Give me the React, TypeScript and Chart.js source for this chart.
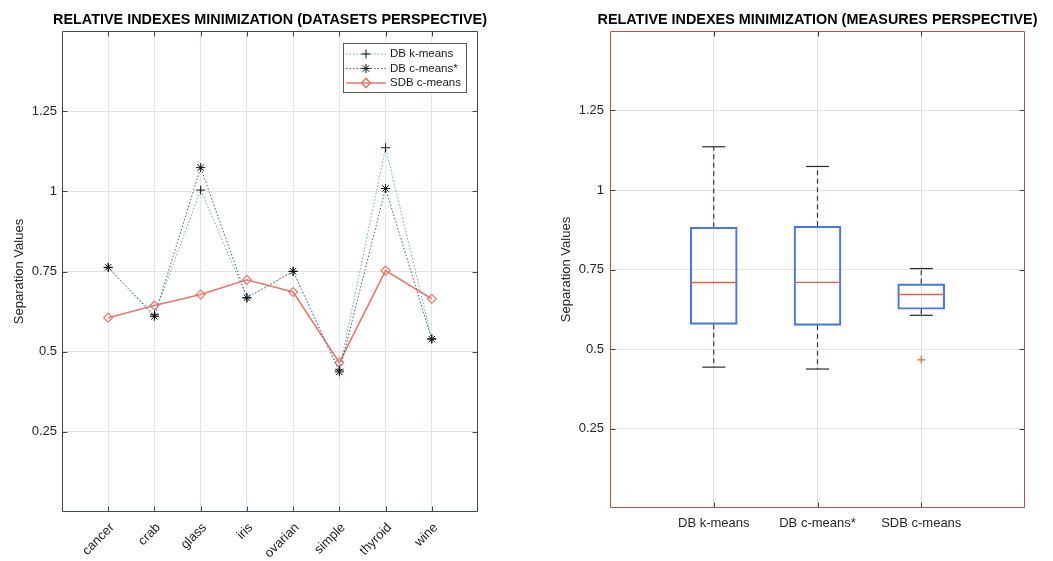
import React, { useEffect, useRef } from 'react';
import { Chart, registerables } from 'chart.js';
import { drawPoint } from 'chart.js/helpers';

Chart.register(...registerables);

// ---------- data ----------
const datasetNames = ['cancer', 'crab', 'glass', 'iris', 'ovarian', 'simple', 'thyroid', 'wine'];
const dbKMeans = [0.762, 0.615, 1.004, 0.668, 0.75, 0.443, 1.136, 0.54];
const dbCMeans = [0.763, 0.61, 1.074, 0.668, 0.751, 0.437, 1.009, 0.539];
const sdbCMeans = [0.606, 0.644, 0.678, 0.724, 0.686, 0.466, 0.753, 0.665];
const measureNames = ['DB k-means', 'DB c-means*', 'SDB c-means'];
const yTickValues = [0.25, 0.5, 0.75, 1, 1.25];

const FONT = '"Liberation Sans", Arial, Helvetica, sans-serif';

// MATLAB-style boxplot statistics derived from the series
function quantile(sorted: number[], p: number) {
  const n = sorted.length;
  const pos = p * n + 0.5;
  if (pos <= 1) return sorted[0];
  if (pos >= n) return sorted[n - 1];
  const lo = Math.floor(pos);
  const f = pos - lo;
  return sorted[lo - 1] + f * (sorted[lo] - sorted[lo - 1]);
}
function boxStats(values: number[]) {
  const s = [...values].sort((a, b) => a - b);
  const q1 = quantile(s, 0.25);
  const med = quantile(s, 0.5);
  const q3 = quantile(s, 0.75);
  const iqr = q3 - q1;
  const lf = q1 - 1.5 * iqr;
  const uf = q3 + 1.5 * iqr;
  const inside = s.filter((v) => v >= lf && v <= uf);
  return {
    q1, med, q3,
    min: inside[0],
    max: inside[inside.length - 1],
    outliers: s.filter((v) => v < lf || v > uf),
  };
}

// ---------- plugins ----------
const frameTicks = {
  id: 'frameTicks',
  afterDatasetsDraw(chart: any, _a: any, opts: any) {
    const { ctx, chartArea, scales } = chart;
    const left = Math.round(chartArea.left) + 0.5;
    const right = Math.round(chartArea.right) - 0.5;
    const top = Math.round(chartArea.top) + 0.5;
    const bottom = Math.round(chartArea.bottom) - 0.5;
    const len = 5;
    ctx.save();
    ctx.lineWidth = 1;
    ctx.setLineDash([]);
    ctx.strokeStyle = opts.tickColor || opts.color || '#333';
    ctx.beginPath();
    scales.x.ticks.forEach((t: any) => {
      const px = Math.round(scales.x.getPixelForValue(t.value)) + 0.5;
      ctx.moveTo(px, bottom); ctx.lineTo(px, bottom - len);
      ctx.moveTo(px, top); ctx.lineTo(px, top + len);
    });
    scales.y.ticks.forEach((t: any) => {
      const py = Math.round(scales.y.getPixelForValue(t.value)) + 0.5;
      ctx.moveTo(left, py); ctx.lineTo(left + len, py);
      ctx.moveTo(right, py); ctx.lineTo(right - len, py);
    });
    ctx.stroke();
    ctx.strokeStyle = opts.color || '#333';
    ctx.beginPath();
    ctx.rect(left, top, right - left, bottom - top);
    ctx.stroke();
    ctx.restore();
  },
};

const legendBox = {
  id: 'legendBox',
  afterDraw(chart: any) {
    const { ctx, chartArea } = chart;
    const w = 123, h = 49;
    const x0 = Math.round(chartArea.right) - 12 - w;
    const y0 = Math.round(chartArea.top) + 12;
    ctx.save();
    ctx.fillStyle = '#ffffff';
    ctx.fillRect(x0, y0, w, h);
    ctx.strokeStyle = '#5a5a5a';
    ctx.lineWidth = 1;
    ctx.strokeRect(x0 + 0.5, y0 + 0.5, w, h);
    chart.data.datasets.forEach((ds: any, i: number) => {
      const y = y0 + 11 + i * 14.5;
      ctx.strokeStyle = ds.borderColor;
      ctx.lineWidth = ds.borderWidth;
      ctx.setLineDash(ds.borderDash || []);
      ctx.beginPath();
      ctx.moveTo(x0 + 3, y);
      ctx.lineTo(x0 + 43, y);
      ctx.stroke();
      ctx.setLineDash([]);
      ctx.strokeStyle = ds.pointBorderColor;
      ctx.fillStyle = ds.pointBackgroundColor;
      drawPoint(ctx, { pointStyle: ds.pointStyle, radius: ds.pointRadius, rotation: 0, borderWidth: ds.pointBorderWidth }, x0 + 23, y);
      ctx.fillStyle = '#1a1a1a';
      ctx.font = '11.5px ' + FONT;
      ctx.textBaseline = 'middle';
      ctx.textAlign = 'left';
      ctx.fillText(ds.label, x0 + 47, y);
    });
    ctx.restore();
  },
};

const titleOpts = (text: string) => ({
  display: true,
  text,
  fullSize: true,
  color: '#000',
  font: { family: FONT, size: 14.4, weight: 'bold' as const, lineHeight: 1.2 },
  padding: { top: 11.5, bottom: 2.22 },
});

function yAxis(width: number, pad: number, titlePad: number, gridColor: string) {
  return {
    type: 'linear' as const,
    position: 'left' as const,
    min: 0,
    max: 1.5,
    afterBuildTicks: (s: any) => { s.ticks = yTickValues.map((v) => ({ value: v })); },
    afterFit: (s: any) => { s.width = width; },
    border: { display: false },
    grid: { color: gridColor, drawTicks: false, lineWidth: 1 },
    ticks: { padding: pad, color: '#262626', font: { family: FONT, size: 13 }, callback: (v: any) => String(v) },
    title: { display: true, text: 'Separation Values', color: '#262626', font: { family: FONT, size: 13 }, padding: { top: titlePad, bottom: 0 } },
  };
}

// empty right-hand axis that only reserves space, so the chart area sits where the reference has it
function spacer(width: number) {
  return {
    type: 'linear' as const,
    position: 'right' as const,
    display: true,
    min: 0,
    max: 1.5,
    afterFit: (s: any) => { s.width = width; },
    border: { display: false },
    grid: { display: false, drawTicks: false },
    ticks: { display: false },
  };
}

// ---------- charts ----------
function LeftChart() {
  const ref = useRef<HTMLCanvasElement>(null);
  useEffect(() => {
    const mk = (vals: number[]) => vals.map((v, i) => ({ x: i + 1, y: v }));
    const chart = new Chart(ref.current!, {
      type: 'line',
      data: {
        datasets: [
          {
            label: 'DB k-means', data: mk(dbKMeans), yAxisID: 'y',
            borderColor: '#5aa9d6', borderWidth: 1, borderDash: [1.5, 2],
            pointStyle: 'cross', pointRadius: 4.5, pointBorderColor: '#111', pointBackgroundColor: '#111', pointBorderWidth: 1,
          } as any,
          {
            label: 'DB c-means*', data: mk(dbCMeans), yAxisID: 'y',
            borderColor: '#4a5c68', borderWidth: 1, borderDash: [1.5, 2],
            pointStyle: 'star', pointRadius: 4.5, pointBorderColor: '#111', pointBackgroundColor: '#111', pointBorderWidth: 1,
          } as any,
          {
            label: 'SDB c-means', data: mk(sdbCMeans), yAxisID: 'y',
            borderColor: '#e8786c', borderWidth: 1.6,
            pointStyle: 'rectRot', pointRadius: 4.5, pointBorderColor: '#e8786c', pointBackgroundColor: 'rgba(255,255,255,0)', pointBorderWidth: 1.2,
          } as any,
        ],
      },
      options: {
        responsive: false,
        animation: false,
        devicePixelRatio: 1,
        events: [],
        layout: { padding: 0 },
        scales: {
          x: {
            type: 'linear', min: 0, max: 9,
            afterBuildTicks: (s: any) => { s.ticks = datasetNames.map((_, i) => ({ value: i + 1 })); },
            afterFit: (s: any) => { s.height = 49; },
            border: { display: false },
            grid: { color: '#dbe7ee', drawTicks: false },
            ticks: {
              autoSkip: false, minRotation: 45, maxRotation: 45, padding: 8, labelOffset: 4,
              color: '#262626', font: { family: FONT, size: 13 },
              callback: (v: any) => datasetNames[Number(v) - 1] ?? '',
            },
          },
          y: yAxis(62, 5, 12, '#e6e2e2') as any,
          yr: spacer(62) as any,
        },
        plugins: {
          legend: { display: false },
          tooltip: { enabled: false },
          title: titleOpts('RELATIVE INDEXES MINIMIZATION (DATASETS PERSPECTIVE)') as any,
          frameTicks: { color: '#3c4a50' },
        } as any,
      },
      plugins: [frameTicks, legendBox],
    });
    return () => chart.destroy();
  }, []);
  return <canvas ref={ref} width={540} height={561} style={{ position: 'absolute', left: 0, top: 0 }} />;
}

function RightChart() {
  const ref = useRef<HTMLCanvasElement>(null);
  useEffect(() => {
    const stats = [dbKMeans, dbCMeans, sdbCMeans].map(boxStats);
    const whiskers: any[] = [];
    stats.forEach((s, i) => {
      whiskers.push({ x: i + 1, y: s.q3 }, { x: i + 1, y: s.max }, { x: i + 1, y: null });
      whiskers.push({ x: i + 1, y: s.q1 }, { x: i + 1, y: s.min }, { x: i + 1, y: null });
    });
    const caps: any[] = [];
    stats.forEach((s, i) => { caps.push({ x: i + 1, y: s.max }, { x: i + 1, y: s.min }); });
    const outliers: any[] = [];
    stats.forEach((s, i) => s.outliers.forEach((o) => outliers.push({ x: i + 1, y: o })));
    const chart = new Chart(ref.current!, {
      type: 'bar',
      data: {
        datasets: [
          {
            type: 'scatter', label: 'median', data: stats.map((s, i) => ({ x: i + 1, y: s.med })), yAxisID: 'y',
            pointStyle: 'line', pointRadius: 23.5, borderColor: '#e2604e', pointBorderColor: '#e2604e', borderWidth: 1.4, pointBorderWidth: 1.4,
          } as any,
          {
            type: 'scatter', label: 'outliers', data: outliers, yAxisID: 'y',
            pointStyle: 'cross', pointRadius: 4, pointBorderColor: '#e2604e', borderColor: '#e2604e', pointBorderWidth: 1.2,
          } as any,
          {
            type: 'scatter', label: 'caps', data: caps, yAxisID: 'y',
            pointStyle: 'line', pointRadius: 11.5, pointBorderColor: '#2a2a2a', borderColor: '#2a2a2a', pointBorderWidth: 1.2,
          } as any,
          {
            type: 'bar', label: 'box', data: stats.map((s, i) => ({ x: i + 1, y: [s.q1, s.q3] })), yAxisID: 'y',
            backgroundColor: 'rgba(0,0,0,0)', borderColor: '#4a78de', borderWidth: 1.5, borderSkipped: false, barThickness: 47,
          } as any,
          {
            type: 'line', label: 'whiskers', data: whiskers, yAxisID: 'y',
            borderColor: '#4a2e2a', borderWidth: 1.2, borderDash: [5, 3.5], pointRadius: 0, spanGaps: false,
          } as any,
        ],
      },
      options: {
        responsive: false,
        animation: false,
        devicePixelRatio: 1,
        events: [],
        layout: { padding: 0 },
        scales: {
          x: {
            type: 'linear', min: 0, max: 4, offset: false,
            afterBuildTicks: (s: any) => { s.ticks = measureNames.map((_, i) => ({ value: i + 1 })); },
            afterFit: (s: any) => { s.height = 53; },
            border: { display: false },
            grid: { color: '#e8dfdd', drawTicks: false, offset: false },
            ticks: {
              autoSkip: false, maxRotation: 0, minRotation: 0, padding: 8,
              color: '#262626', font: { family: FONT, size: 13 },
              callback: (v: any) => measureNames[Number(v) - 1] ?? '',
            },
          },
          y: yAxis(83, 6, 32, '#e8e2e0') as any,
          yr: spacer(83) as any,
        },
        plugins: {
          legend: { display: false },
          tooltip: { enabled: false },
          title: titleOpts('RELATIVE INDEXES MINIMIZATION (MEASURES PERSPECTIVE)') as any,
          frameTicks: { color: '#a8584a', tickColor: '#4a3a38' },
        } as any,
      },
      plugins: [frameTicks],
    });
    return () => chart.destroy();
  }, []);
  return <canvas ref={ref} width={581} height={561} style={{ position: 'absolute', left: 527, top: 0 }} />;
}

export default function App() {
  return (
    <div style={{ position: 'absolute', left: 0, top: 0, width: 1053, height: 561, background: '#fff', overflow: 'hidden' }}>
      <LeftChart />
      <RightChart />
    </div>
  );
}
